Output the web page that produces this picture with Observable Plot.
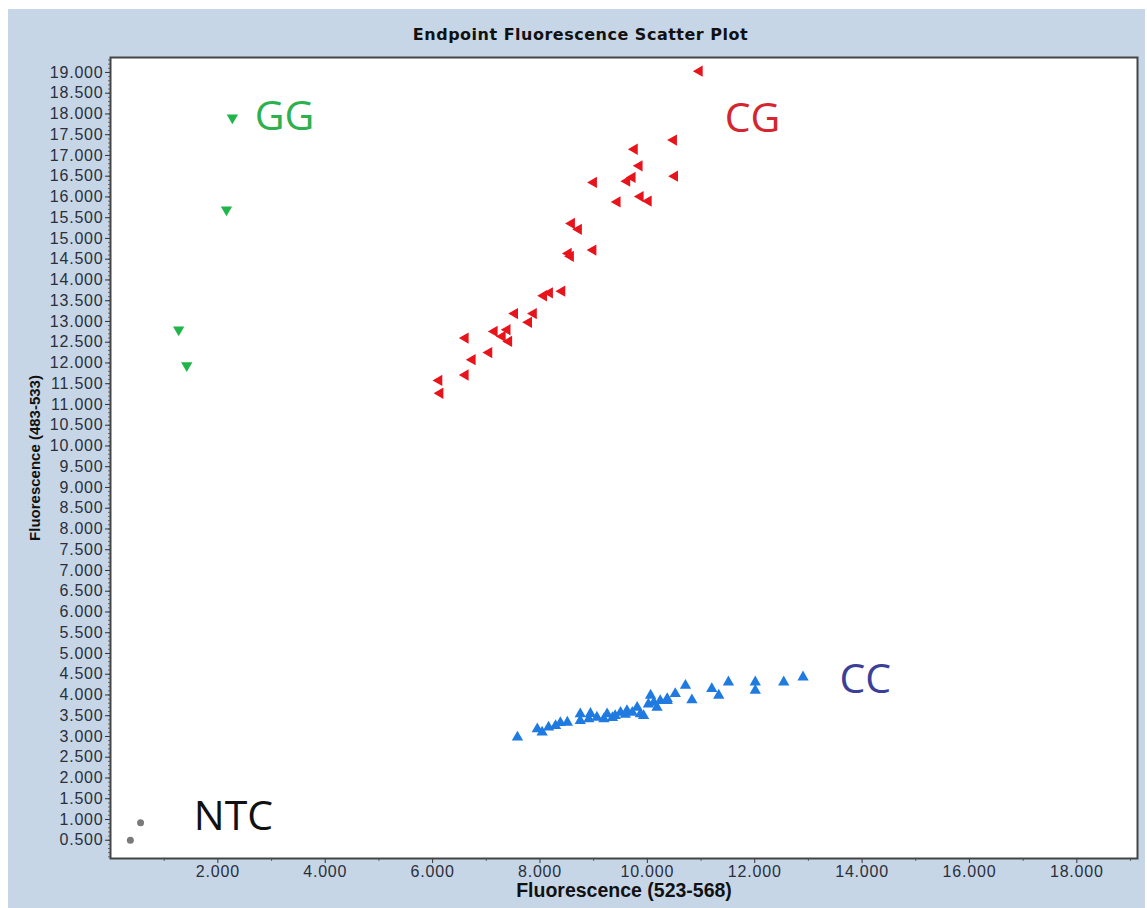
<!DOCTYPE html>
<html><head><meta charset="utf-8">
<script src="https://cdn.jsdelivr.net/npm/d3@7"></script>
<script src="https://cdn.jsdelivr.net/npm/@observablehq/plot@0.6"></script>
<style>
body{margin:0;background:#fff;}
#panel{position:absolute;left:8px;top:9px;width:1137px;height:899px;background:#c6d6e7;}
#title{position:absolute;left:0;top:16px;width:1145px;height:20px;line-height:20px;text-align:center;font:bold 16px "DejaVu Sans";letter-spacing:0.5px;color:#111;}
#chart{position:absolute;left:0;top:40px;}
g[aria-label="y-axis tick label"] text, g[aria-label="x-axis tick label"] text {letter-spacing:0.8px;}
</style></head>
<body><div id="panel"><div id="title">Endpoint Fluorescence Scatter Plot</div><div id="chart"></div></div>
<script>
// Fluorescence values (thousands)
const ntcX = [0.37, 0.56];
const ntcY = [0.50, 0.92];
const ggX = [2.27, 2.16, 1.27, 1.42];
const ggY = [17.91, 15.69, 12.80, 11.94];
const cgX = [10.97,10.49,9.76,9.85,10.51,9.00,9.62,9.72,9.87,10.02,9.44,8.59,8.72,8.99,8.57,8.53,8.41,8.07,8.18,7.53,7.88,7.79,7.15,7.39,7.30,7.42,6.61,7.05,6.74,6.61,6.12,6.14];
const cgY = [19.03,17.37,17.15,16.75,16.50,16.35,16.38,16.47,16.01,15.90,15.88,15.36,15.22,14.72,14.57,14.64,13.73,13.62,13.69,13.19,13.19,12.98,12.76,12.80,12.64,12.52,12.60,12.25,12.08,11.71,11.58,11.27];
const ccX = [7.58,7.95,8.04,8.16,8.29,8.38,8.51,8.75,8.75,8.91,8.94,9.06,9.19,9.25,9.35,9.40,9.50,9.59,9.62,9.72,9.81,9.87,9.93,10.02,10.06,10.12,10.18,10.24,10.37,10.37,10.52,10.71,10.83,11.20,11.33,11.51,12.01,12.01,12.54,12.90];
const ccY = [2.98,3.18,3.10,3.22,3.26,3.33,3.34,3.38,3.54,3.42,3.55,3.46,3.42,3.54,3.45,3.50,3.58,3.53,3.62,3.58,3.70,3.54,3.50,3.78,3.99,3.82,3.70,3.86,3.91,3.86,4.03,4.23,3.88,4.15,3.99,4.31,4.31,4.11,4.31,4.43];

// Cluster labels
const labelNames = ["GG", "CG", "CC", "NTC"];
const labelX = [3.24, 11.96, 14.06, 2.29];
const labelY = [17.92, 17.89, 4.36, 1.06];
const labelColors = ["#2db04e", "#d3262e", "#3c3f98", "#111111"];

// Ticks
const xTicks = [2, 4, 6, 8, 10, 12, 14, 16, 18];
const xMinor = [1, 3, 5, 7, 9, 11, 13, 15, 17, 19];
const yTicks = [0.5,1,1.5,2,2.5,3,3.5,4,4.5,5,5.5,6,6.5,7,7.5,8,8.5,9,9.5,10,10.5,11,11.5,12,12.5,13,13.5,14,14.5,15,15.5,16,16.5,17,17.5,18,18.5,19];
const yMinor = d3.range(0.1, 19.35, 0.1);

const pts = (xs, ys) => xs.map((x, i) => ({x, y: ys[i]}));
const labels = labelNames.map((t, i) => ({t, x: labelX[i], y: labelY[i], c: labelColors[i]}));
const fmt = d3.format(".3f");
const blank = () => "";

const chart = Plot.plot({
  width: 1137,
  height: 859,
  marginLeft: 102,
  marginRight: 8,
  marginTop: 8,
  marginBottom: 50,
  style: {background: "transparent", fontFamily: "Liberation Sans, Arial, sans-serif"},
  x: {domain: [0, 19.13]},
  y: {domain: [0.06, 19.36]},
  marks: [
    Plot.frame({fill: "white"}),
    Plot.axisY({ticks: yMinor, tickSize: 2, tickFormat: blank, stroke: "#666", label: null}),
    Plot.axisY({ticks: yTicks, tickSize: 5, tickPadding: 2, tickFormat: fmt, fontSize: 16, fill: "#2a2f3a", stroke: "#333", label: null}),
    Plot.axisX({ticks: xMinor, tickSize: 3, tickFormat: blank, stroke: "#666", label: null}),
    Plot.axisX({ticks: xTicks, tickSize: 5, tickPadding: 2, tickFormat: fmt, fontSize: 16, fill: "#2a2f3a", stroke: "#333", label: null}),
    Plot.text(["Fluorescence (523-568)"], {frameAnchor: "bottom", dy: 38, fontSize: 19.5, fontWeight: "bold", fill: "#111"}),
    Plot.text(["Fluorescence (483-533)"], {frameAnchor: "left", dx: -75, rotate: -90, textAnchor: "middle", fontSize: 15, fontWeight: "bold", fill: "#111"}),
    Plot.dot(pts(ntcX, ntcY), {x: "x", y: "y", r: 3.5, fill: "#7a7a7a"}),
    Plot.dot(pts(ccX, ccY), {x: "x", y: "y", symbol: "triangle", r: 4.2, fill: "#1f7be0"}),
    Plot.dot(pts(cgX, cgY), {x: "x", y: "y", symbol: "triangle", r: 4.2, fill: "#e8141c", rotate: -90}),
    Plot.dot(pts(ggX, ggY), {x: "x", y: "y", symbol: "triangle", r: 4.2, fill: "#1fb548", rotate: 180}),
    Plot.text(labels, {x: "x", y: "y", text: "t", fill: "c", fontSize: 41, fontFamily: "Open Sans", lineAnchor: "middle"}),
    Plot.frame({stroke: "#444", strokeWidth: 2})
  ]
});
document.getElementById("chart").appendChild(chart);
</script></body></html>
